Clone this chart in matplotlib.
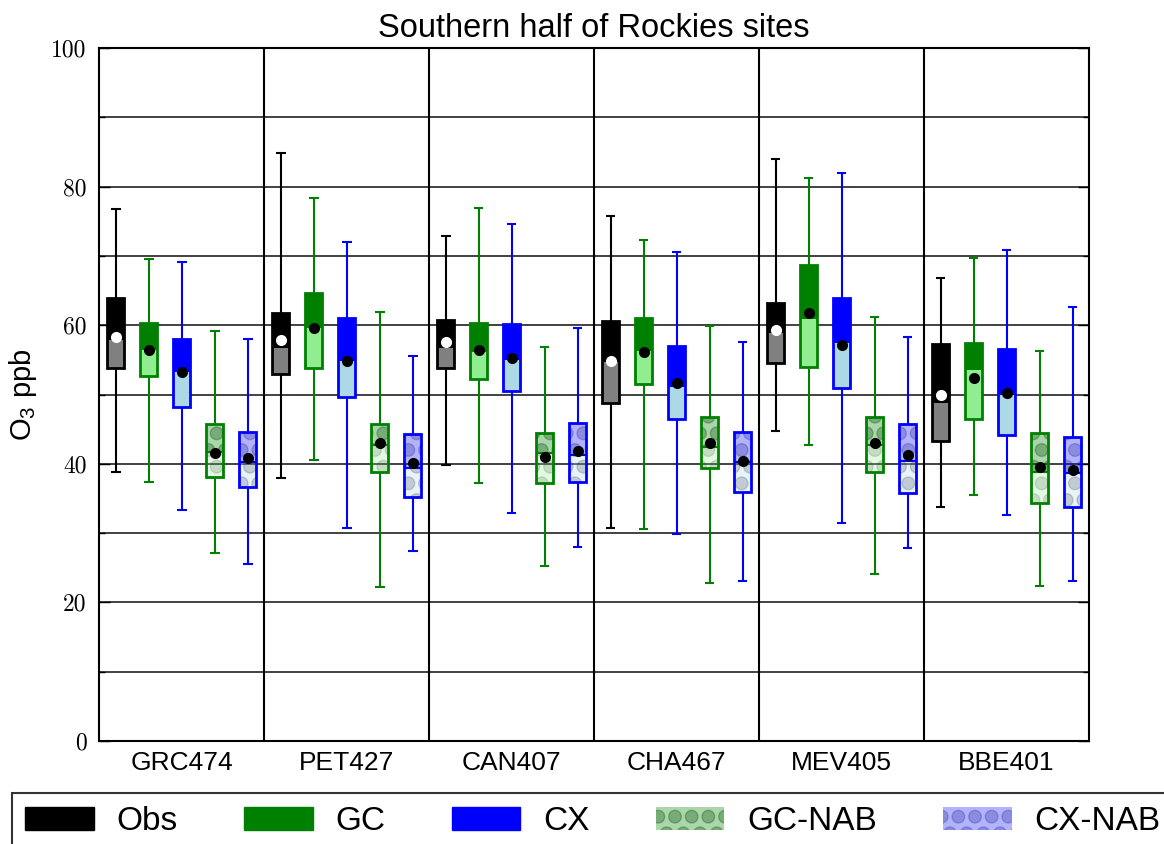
import numpy as np
import matplotlib.pyplot as plt
import matplotlib.hatch
from matplotlib.patches import Patch
from matplotlib.ticker import MultipleLocator

plt.rcParams['font.family'] = ['Liberation Sans', 'DejaVu Sans']

# the 'O' hatch is drawn as solid, slightly larger dots like the original
matplotlib.hatch.LargeCircles.filled = True
matplotlib.hatch.LargeCircles.size = 0.38

sites = ['GRC474', 'PET427', 'CAN407', 'CHA467', 'MEV405', 'BBE401']
series = ['Obs', 'GC', 'CX', 'GC-NAB', 'CX-NAB']

# each row: whisker low, q1, median, q3, whisker high, mean (one row per site)
obs = [(38.8, 53.8, 57.9, 63.9, 76.8, 58.3),
       (37.9, 53.0, 56.7, 61.8, 84.8, 57.9),
       (39.8, 53.8, 56.7, 60.8, 72.9, 57.6),
       (30.7, 48.8, 54.7, 60.6, 75.8, 54.8),
       (44.7, 54.5, 58.9, 63.2, 84.0, 59.3),
       (33.8, 43.3, 48.8, 57.3, 66.8, 49.9)]
gc = [(37.4, 52.7, 56.4, 60.3, 69.6, 56.4),
      (40.5, 53.8, 59.6, 64.6, 78.4, 59.6),
      (37.2, 52.2, 56.1, 60.3, 76.9, 56.4),
      (30.6, 51.5, 56.3, 61.0, 72.3, 56.1),
      (42.7, 54.0, 60.9, 68.7, 81.2, 61.8),
      (35.5, 46.5, 53.5, 57.4, 69.7, 52.4)]
cx = [(33.3, 48.2, 53.2, 58.0, 69.1, 53.2),
      (30.7, 49.6, 54.8, 61.0, 72.0, 54.8),
      (32.9, 50.5, 55.0, 60.2, 74.6, 55.3),
      (29.9, 46.5, 51.1, 57.0, 70.6, 51.7),
      (31.5, 50.9, 57.4, 63.9, 82.0, 57.1),
      (32.6, 44.2, 49.9, 56.6, 70.9, 50.2)]
gc_nab = [(27.1, 38.1, 41.7, 45.7, 59.2, 41.6),
          (22.2, 38.8, 42.7, 45.7, 61.9, 43.0),
          (25.3, 37.2, 41.6, 44.4, 56.9, 41.0),
          (22.8, 39.4, 42.4, 46.8, 59.9, 43.0),
          (24.1, 38.8, 42.7, 46.8, 61.2, 43.0),
          (22.4, 34.3, 38.8, 44.4, 56.3, 39.5)]
cx_nab = [(25.5, 36.7, 40.3, 44.6, 58.0, 40.8),
          (27.4, 35.2, 39.4, 44.3, 55.6, 40.1),
          (28.0, 37.4, 41.3, 45.9, 59.6, 41.8),
          (23.1, 35.9, 40.3, 44.6, 57.6, 40.4),
          (27.8, 35.8, 40.4, 45.7, 58.3, 41.3),
          (23.1, 33.8, 38.7, 43.9, 62.6, 39.1)]
all_data = [obs, gc, cx, gc_nab, cx_nab]

upper_cols = ['black', 'green', 'blue', (0, 0.5, 0, 0.33), (0, 0, 1, 0.3)]
lower_cols = ['grey', 'lightgreen', 'lightblue', (0.56, 0.93, 0.56, 0.25), (0.68, 0.85, 0.9, 0.3)]
edge_cols = ['black', 'green', 'blue', 'green', 'blue']
upper_hatch = [None, None, None, (0, 0.3, 0, 0.3), (0.1, 0.1, 0.5, 0.25)]
lower_hatch = [None, None, None, (0.1, 0.2, 0.1, 0.15), (0.1, 0.1, 0.2, 0.18)]
mean_cols = ['white', 'black', 'black', 'black', 'black']
offsets = [0.1, 0.3, 0.5, 0.7, 0.9]
width = 0.1
cap = 0.03

fig = plt.figure(figsize=(11.64, 8.44), dpi=100)
ax = fig.add_axes([0.0851, 0.1220, 0.8505, 0.8211])

for k, data in enumerate(all_data):
    lo, q1, med, q3, hi, mean = np.array(data).T
    x = np.arange(len(sites)) + offsets[k]
    ec = edge_cols[k]
    ax.vlines(x, lo, q1, color=ec, lw=1.5, zorder=2)
    ax.vlines(x, q3, hi, color=ec, lw=1.5, zorder=2)
    ax.hlines(lo, x - cap, x + cap, color=ec, lw=1.5, zorder=2)
    ax.hlines(hi, x - cap, x + cap, color=ec, lw=1.5, zorder=2)
    if upper_hatch[k] is None:
        ax.bar(x, med - q1, width, bottom=q1, color=lower_cols[k], lw=0, zorder=3)
        ax.bar(x, q3 - med, width, bottom=med, color=upper_cols[k], lw=0, zorder=3)
    else:
        ax.bar(x, med - q1, width, bottom=q1, facecolor=lower_cols[k],
               edgecolor=lower_hatch[k], hatch='O', lw=0, zorder=3)
        ax.bar(x, q3 - med, width, bottom=med, facecolor=upper_cols[k],
               edgecolor=upper_hatch[k], hatch='O', lw=0, zorder=3)
        ax.hlines(med, x - width / 2, x + width / 2, color=ec, lw=1.5, zorder=4)
    ax.bar(x, q3 - q1, width, bottom=q1, fill=False, edgecolor=ec, lw=2, zorder=4)
    ax.plot(x, mean, 'o', color=mean_cols[k], mec='none', ms=8, zorder=5)

for s in range(1, len(sites)):
    ax.axvline(s, color='black', lw=1.5, zorder=1)

ax.set_xlim(0, len(sites))
ax.set_ylim(0, 100)
ax.set_xticks(np.arange(len(sites)) + 0.5)
ax.set_xticklabels(sites, fontsize=19)
ax.tick_params(axis='x', length=0, pad=7)
ax.yaxis.set_major_locator(MultipleLocator(20))
ax.yaxis.set_minor_locator(MultipleLocator(10))
ax.set_yticks(range(0, 101, 20))
ax.set_yticklabels([str(v) for v in range(0, 101, 20)], fontfamily='cmr10', fontsize=17)
ax.tick_params(axis='y', which='both', direction='in', right=True, pad=9)
ax.tick_params(axis='y', which='major', length=8, width=1)
ax.tick_params(axis='y', which='minor', length=4, width=1)
ax.yaxis.grid(True, which='both', color='0.2', lw=1.3, zorder=0)
ax.set_axisbelow(True)
for sp in ax.spines.values():
    sp.set_linewidth(1.5)

ax.set_ylabel(r'O$_\mathregular{3}$ ppb', fontsize=21, labelpad=9)
ax.set_title('Southern half of Rockies sites', fontsize=23.5, pad=8)

handles = []
for k in range(len(series)):
    if upper_hatch[k] is None:
        handles.append(Patch(facecolor=upper_cols[k], edgecolor=upper_cols[k], label=series[k]))
    else:
        handles.append(Patch(facecolor=upper_cols[k], edgecolor=upper_hatch[k],
                             hatch='O', lw=0, label=series[k]))
leg = fig.legend(handles=handles, loc='upper left', bbox_to_anchor=(12 / 1164, 1 - 793 / 844),
                 ncol=5, fontsize=24, frameon=True, fancybox=False, borderaxespad=0,
                 handlelength=2.05, handletextpad=0.68, columnspacing=2.0, borderpad=0.4)
leg.get_frame().set_edgecolor('black')
leg.get_frame().set_linewidth(1.5)

fig.savefig('out.png', dpi=100)
